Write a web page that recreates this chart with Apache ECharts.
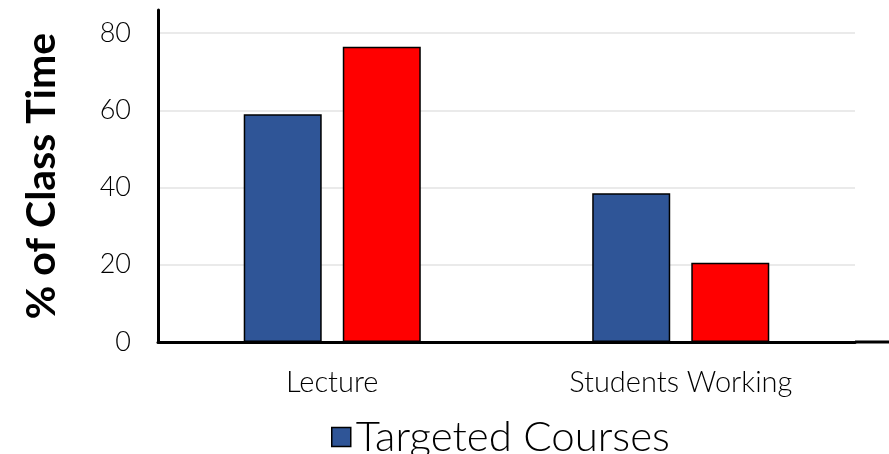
<!DOCTYPE html>
<html>
<head>
<meta charset="utf-8">
<script src="https://cdn.jsdelivr.net/npm/echarts@6/dist/echarts.min.js"></script>
<style>
  html, body { margin: 0; padding: 0; background: #fff; }
  #chart { width: 889px; height: 454px; }
</style>
</head>
<body>
<div id="chart"></div>
<script>
// data
var categories = ['Lecture', 'Students Working'];
var targetedValues = [59, 38.5];
var comparisonValues = [76.5, 20.5];
var yTicks = [0, 20, 40, 60, 80];

var chart = echarts.init(document.getElementById('chart'));
var font = 'Lato, "Open Sans", sans-serif';

var option = {
  animation: false,
  textStyle: { fontFamily: font },
  grid: { left: 158, right: 34, top: 10, bottom: 112 },
  legend: {
    data: ['Targeted Courses'],
    left: 326,
    top: 411,
    itemWidth: 19,
    itemHeight: 19,
    itemGap: 12,
    icon: 'rect',
    itemStyle: { borderColor: '#000', borderWidth: 1.5 },
    textStyle: { fontSize: 42, color: '#000', fontFamily: font, fontWeight: 300 }
  },
  xAxis: {
    type: 'category',
    data: categories,
    axisLine: { lineStyle: { color: '#000', width: 3 } },
    axisTick: { show: false },
    axisLabel: { fontSize: 29, color: '#000', margin: 26, fontFamily: font, fontWeight: 300 }
  },
  yAxis: {
    type: 'value',
    min: 0,
    max: 86,
    interval: 20,
    name: '% of Class Time',
    nameLocation: 'middle',
    nameGap: 96,
    nameTextStyle: { fontSize: 41, fontWeight: 'bold', color: '#000', fontFamily: font },
    axisLine: { show: true, lineStyle: { color: '#000', width: 3 } },
    axisTick: { show: false },
    axisLabel: {
      fontSize: 27, color: '#000', margin: 27, fontFamily: font, fontWeight: 300,
      showMaxLabel: false,
      formatter: function (v) { return yTicks.indexOf(v) >= 0 ? String(v) : ''; }
    },
    splitLine: { show: true, showMaxLine: false, lineStyle: { color: '#e3e3e3', width: 1.5 } }
  },
  series: [
    {
      name: 'Targeted Courses',
      type: 'bar',
      data: targetedValues,
      barWidth: 78,
      barGap: '27%',
      itemStyle: { color: '#2F5597', borderColor: '#000', borderWidth: 1.5 }
    },
    {
      name: 'Comparison Courses',
      type: 'bar',
      data: comparisonValues,
      barWidth: 78,
      barGap: '27%',
      itemStyle: { color: '#FF0000', borderColor: '#000', borderWidth: 1.5 }
    }
  ],
  graphic: [
    // x axis line runs past the plot area to the right edge
    { type: 'line', shape: { x1: 855, y1: 342, x2: 889, y2: 342 }, style: { stroke: '#000', lineWidth: 3 } }
  ]
};

chart.setOption(option);
</script>
</body>
</html>
